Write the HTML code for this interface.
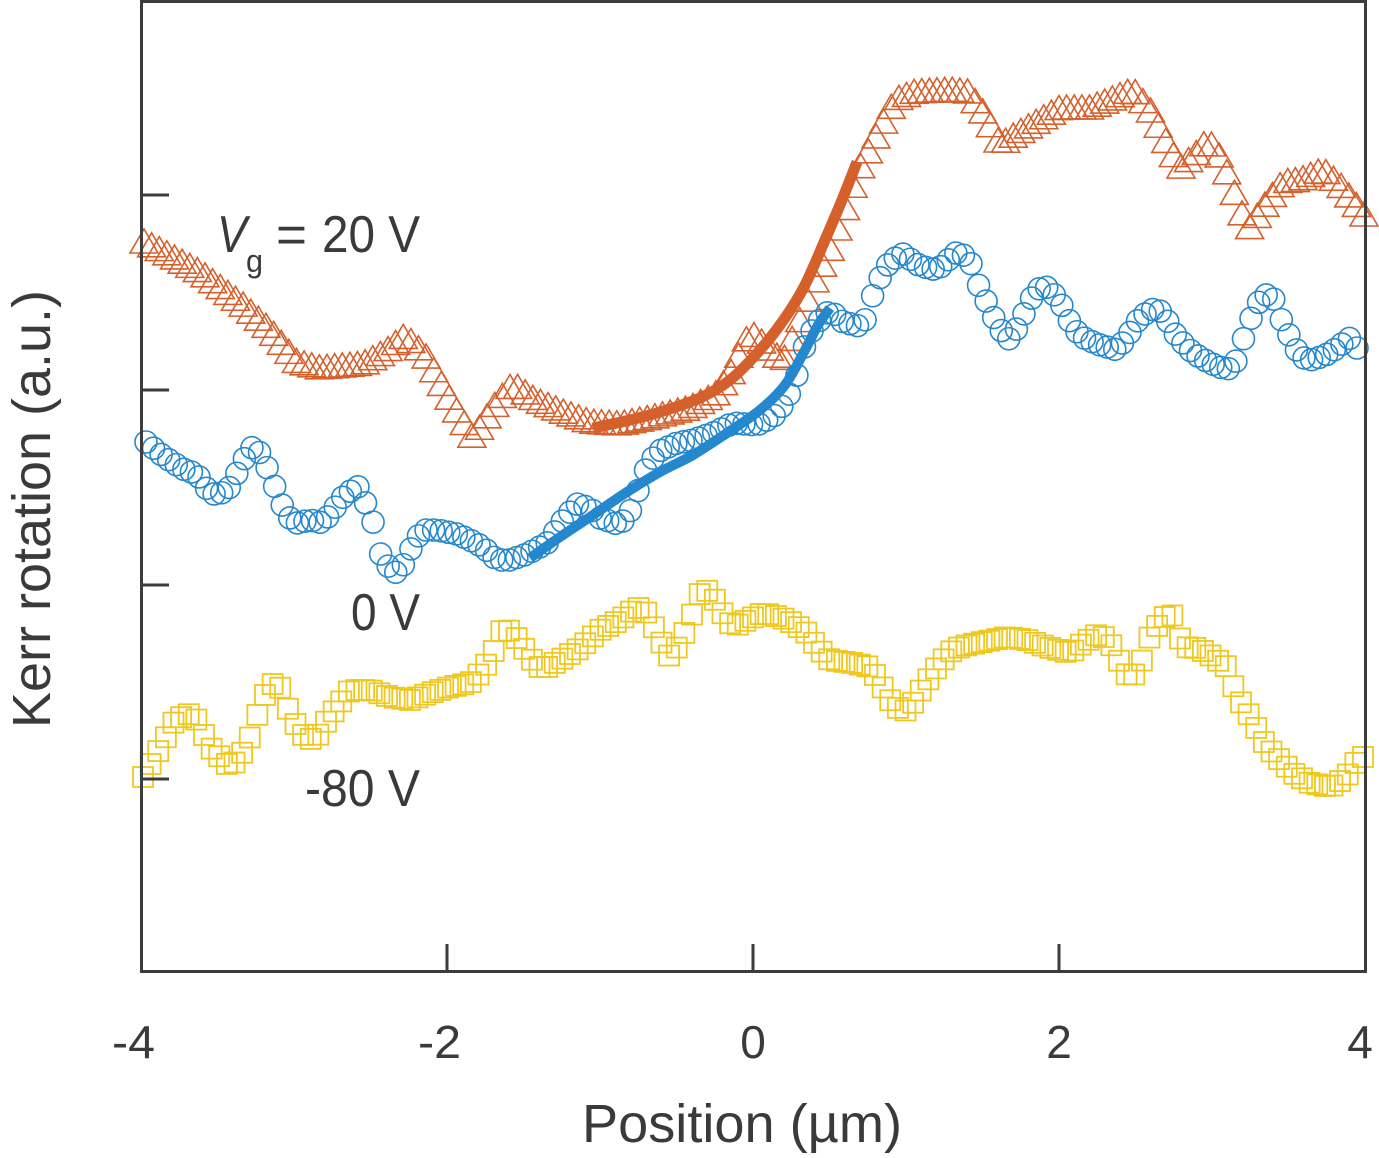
<!DOCTYPE html>
<html><head><meta charset="utf-8">
<style>
html,body{margin:0;padding:0;background:#fff;}
svg{display:block;}
text{font-family:"Liberation Sans",sans-serif;fill:#3b393a;}
</style></head>
<body>
<svg id="s" width="1379" height="1158" viewBox="0 0 1379 1158" xmlns="http://www.w3.org/2000/svg">
<rect width="1379" height="1158" fill="#fff"/>
<g id="tri" fill="none" stroke="#D5602C" stroke-width="1.6" stroke-linejoin="miter"></g>
<g id="cir" fill="none" stroke="#2587CD" stroke-width="1.6"></g>
<g id="sq" fill="none" stroke="#EEC81E" stroke-width="1.8"></g>
<path id="fo" fill="none" stroke="#D5602C" stroke-width="11" stroke-linecap="butt"/>
<path id="fb" fill="none" stroke="#2587CD" stroke-width="10" stroke-linecap="butt"/>
<g stroke="#3d3b3c" stroke-width="3" fill="none">
<rect x="141.5" y="1.5" width="1224" height="970"/>
<line x1="141" y1="195" x2="169" y2="195"/>
<line x1="141" y1="390" x2="169" y2="390"/>
<line x1="141" y1="585" x2="169" y2="585"/>
<line x1="141" y1="779" x2="169" y2="779"/>
<line x1="447" y1="971" x2="447" y2="944"/>
<line x1="753" y1="971" x2="753" y2="944"/>
<line x1="1059" y1="971" x2="1059" y2="944"/>
</g>
<text x="217" y="252" font-size="52" font-style="italic" textLength="30" lengthAdjust="spacingAndGlyphs">V</text>
<text x="246" y="272" font-size="32" textLength="17" lengthAdjust="spacingAndGlyphs">g</text>
<text x="276" y="252" font-size="52" textLength="31" lengthAdjust="spacingAndGlyphs">=</text>
<text x="322" y="252" font-size="52" textLength="98" lengthAdjust="spacingAndGlyphs">20 V</text>
<text x="351" y="630" font-size="52" textLength="69" lengthAdjust="spacingAndGlyphs">0 V</text>
<text x="305" y="806" font-size="52" textLength="115" lengthAdjust="spacingAndGlyphs">-80 V</text>
<text x="112" y="1058" font-size="46" textLength="43" lengthAdjust="spacingAndGlyphs">-4</text>
<text x="418" y="1058" font-size="46" textLength="43" lengthAdjust="spacingAndGlyphs">-2</text>
<text x="753" y="1058" font-size="46" text-anchor="middle">0</text>
<text x="1059" y="1058" font-size="46" text-anchor="middle">2</text>
<text x="1360" y="1058" font-size="46" text-anchor="middle">4</text>
<text x="582" y="1142" font-size="54" textLength="320" lengthAdjust="spacingAndGlyphs">Position (µm)</text>
<text transform="translate(50,728) rotate(-90)" x="0" y="0" font-size="54" textLength="438" lengthAdjust="spacingAndGlyphs">Kerr rotation (a.u.)</text>
</svg>
<script>
const NS="http://www.w3.org/2000/svg";
function interp(k,x){if(x<=k[0][0])return k[0][1];for(let i=1;i<k.length;i++){if(x<=k[i][0]){const a=k[i-1],b=k[i];return a[1]+(b[1]-a[1])*(x-a[0])/(b[0]-a[0]);}}return k[k.length-1][1];}
function el(g,tag,attrs){const e=document.createElementNS(NS,tag);for(const a in attrs)e.setAttribute(a,attrs[a]);g.appendChild(e);}
function gen(k,x0,x1,n,fn,g){for(let i=0;i<n;i++){const x=x0+(x1-x0)*i/(n-1);const y=interp(k,x);fn(g,x,y);}}
const orange=[[144,242],[160,250],[200,272],[243,305],[270,330],[297,362],[320,368],[363,364],[385,352],[405,336],[425,355],[450,400],[473,438],[495,405],[513,384],[535,400],[563,412],[590,422],[620,424],[650,418],[690,408],[715,395],[730,375],[750,332],[765,345],[783,362],[800,320],[813,285],[830,250],[845,210],[858,172],[877,135],[895,100],[915,92],[950,90],[968,92],[985,115],[1000,145],[1015,135],[1040,120],[1060,108],[1090,108],[1110,100],[1133,90],[1150,110],[1165,140],[1180,168],[1195,155],[1208,140],[1222,160],[1235,195],[1248,230],[1265,205],[1283,182],[1300,180],[1323,170],[1340,185],[1364,215]];
const blue=[[146,442],[163,456],[183,469],[197,474],[207,489],[217,496],[230,487],[240,467],[250,448],[257,447],[263,460],[270,473],[277,493],[287,516],[297,523],[310,520],[323,523],[333,510],[343,497],[357,486],[363,491],[367,510],[377,530],[380,553],[390,569],[397,573],[407,560],[413,543],[423,530],[437,530],[457,534],[470,540],[483,547],[497,560],[510,560],[527,554],[547,543],[563,520],[577,504],[590,508],[600,518],[620,525],[633,507],[643,474],[657,452],[677,443],[693,440],[713,433],[733,423],[757,425],[773,417],[787,400],[797,375],[805,345],[815,325],[830,310],[843,322],[863,327],[870,302],[880,278],[890,261],[903,254],[920,266],[937,270],[957,252],[967,257],[973,267],[980,290],[990,308],[997,326],[1010,340],[1020,323],[1030,300],[1043,284],[1053,293],[1063,307],[1070,322],[1080,336],[1097,344],[1117,350],[1127,337],[1140,317],[1157,307],[1167,320],[1177,337],[1193,353],[1210,363],[1227,370],[1237,360],[1243,340],[1253,313],[1263,294],[1273,297],[1280,317],[1290,337],[1300,357],[1313,360],[1330,353],[1350,338],[1357,348]];
const yellow=[[143,777],[153,760],[163,743],[173,723],[187,713],[197,720],[203,733],[210,747],[220,757],[230,767],[240,757],[250,737],[260,707],[270,683],[280,687],[287,707],[297,727],[307,740],[317,737],[327,720],[337,707],[350,690],[370,690],[390,697],[410,700],[430,693],[450,687],[470,683],[483,670],[493,653],[503,627],[513,633],[523,647],[537,667],[547,667],[560,660],[580,648],[600,630],[620,620],[637,607],[647,613],[660,640],[670,657],[680,643],[690,620],[700,593],[710,590],[720,610],[733,627],[747,620],[763,613],[780,617],[793,623],[807,633],[817,647],[830,660],[853,663],[870,667],[880,683],[890,700],[903,713],[913,703],[923,687],[937,667],[950,652],[960,647],[977,643],[993,640],[1007,637],[1027,640],[1047,647],[1070,653],[1083,643],[1100,633],[1113,647],[1120,663],[1130,680],[1140,667],[1147,643],[1153,630],[1163,620],[1170,608],[1177,630],[1183,647],[1197,648],[1207,653],[1217,660],[1227,667],[1230,680],[1237,693],[1243,707],[1253,720],[1260,737],[1270,750],[1280,760],[1293,773],[1310,783],[1330,787],[1347,777],[1350,767],[1363,757]];
gen(orange,144,1364,161,(g,x,y)=>el(g,"polygon",{points:`${x},${y-13} ${x+14},${y+11} ${x-14},${y+11}`}),document.getElementById("tri"));
gen(blue,146,1357,161,(g,x,y)=>el(g,"circle",{cx:x,cy:y,r:11}),document.getElementById("cir"));
gen(yellow,143,1363,161,(g,x,y)=>el(g,"rect",{x:x-10,y:y-10,width:20,height:20}),document.getElementById("sq"));
function cr(p){let d=`M${p[0][0]},${p[0][1]}`;for(let i=0;i<p.length-1;i++){const p0=p[i-1]||p[i],p1=p[i],p2=p[i+1],p3=p[i+2]||p2;const c1=[p1[0]+(p2[0]-p0[0])/6,p1[1]+(p2[1]-p0[1])/6],c2=[p2[0]-(p3[0]-p1[0])/6,p2[1]-(p3[1]-p1[1])/6];d+=` C${c1[0]},${c1[1]} ${c2[0]},${c2[1]} ${p2[0]},${p2[1]}`;}return d;}
document.getElementById("fo").setAttribute("d",cr([[593,428],[630,420],[660,412],[700,398],[730,380],[760,350],[785,318],[805,285],[825,240],[842,200],[857,162]]));
document.getElementById("fb").setAttribute("d",cr([[530,558],[560,537],[593,515],[627,492],[660,472],[693,455],[727,433],[760,410],[785,385],[805,350],[818,325],[830,308]]));
</script>
</body></html>
